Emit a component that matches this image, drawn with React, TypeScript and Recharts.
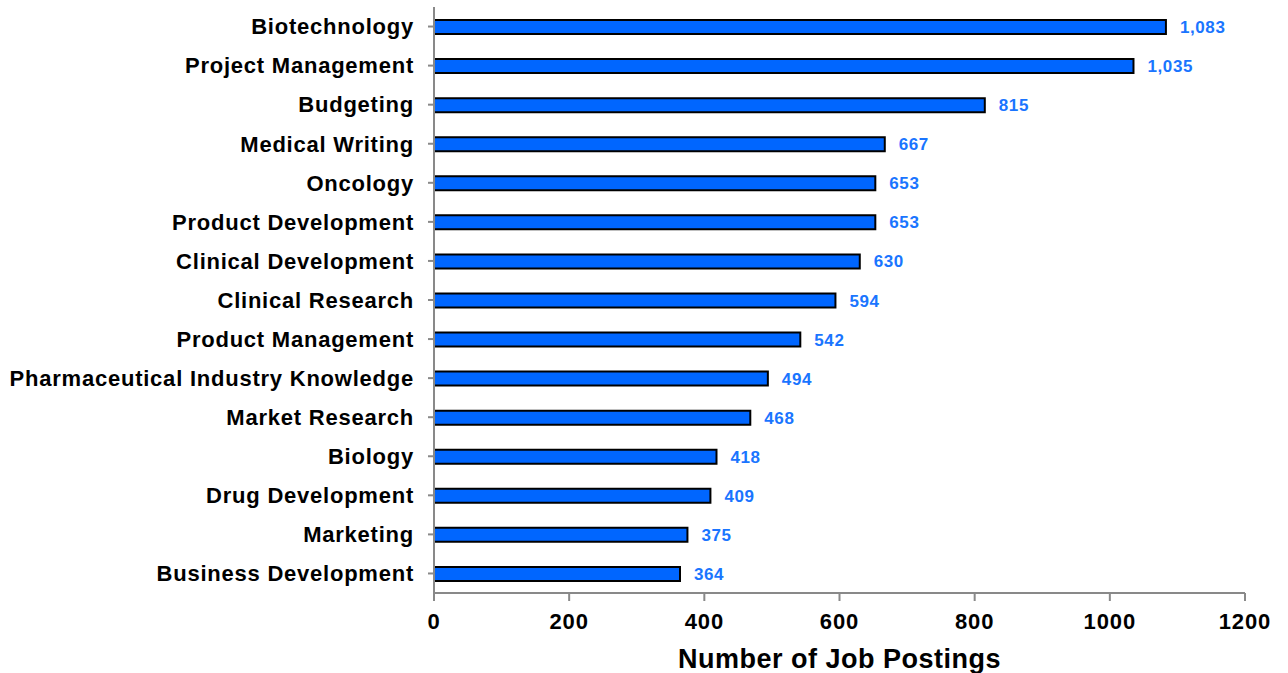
import React from "react";
import { BarChart, Bar, XAxis, YAxis, LabelList } from "recharts";

const categories = [
  "Biotechnology",
  "Project Management",
  "Budgeting",
  "Medical Writing",
  "Oncology",
  "Product Development",
  "Clinical Development",
  "Clinical Research",
  "Product Management",
  "Pharmaceutical Industry Knowledge",
  "Market Research",
  "Biology",
  "Drug Development",
  "Marketing",
  "Business Development",
];
const postings = [1083, 1035, 815, 667, 653, 653, 630, 594, 542, 494, 468, 418, 409, 375, 364];
const xTicks = [0, 200, 400, 600, 800, 1000, 1200];

const data = categories.map((name, i) => ({ name, value: postings[i] }));

const FONT = "'Liberation Sans', Arial, sans-serif";
const AXIS = "#898989";

export default function App() {
  return (
    <div style={{ position: "absolute", left: 0, top: 0, width: 1288, height: 673, background: "#fff" }}>
      <BarChart
        width={1288}
        height={673}
        data={data}
        layout="vertical"
        margin={{ top: 7, right: 43, bottom: 5, left: 0 }}
        barCategoryGap={0}
      >
        <XAxis
          type="number"
          domain={[0, 1200]}
          ticks={xTicks}
          height={75}
          tickSize={8}
          tickMargin={12}
          axisLine={{ stroke: AXIS, strokeWidth: 2 }}
          tickLine={{ stroke: AXIS, strokeWidth: 2 }}
          tick={{ fill: "#000", fontFamily: FONT, fontWeight: "bold", fontSize: 22, letterSpacing: 0.9 }}
          label={{
            value: "Number of Job Postings",
            position: "insideBottom",
            offset: 0,
            fill: "#000",
            fontFamily: FONT,
            fontWeight: "bold",
            fontSize: 27,
            letterSpacing: 0.5,
          }}
        />
        <YAxis
          type="category"
          dataKey="name"
          width={434}
          tickSize={6}
          tickMargin={14}
          interval={0}
          axisLine={{ stroke: AXIS, strokeWidth: 2 }}
          tickLine={{ stroke: AXIS, strokeWidth: 2 }}
          tick={{ fill: "#000", fontFamily: FONT, fontWeight: "bold", fontSize: 22, letterSpacing: 0.77 }}
        />
        <Bar dataKey="value" fill="#0066FF" stroke="#000" strokeWidth={2} barSize={14} isAnimationActive={false}>
          <LabelList
            dataKey="value"
            position="right"
            offset={14}
            formatter={(v: any) => Number(v).toLocaleString("en-US")}
            style={{ fill: "#1a75ff", fontFamily: FONT, fontWeight: "bold", fontSize: 17, letterSpacing: 0.6 }}
          />
        </Bar>
      </BarChart>
    </div>
  );
}
